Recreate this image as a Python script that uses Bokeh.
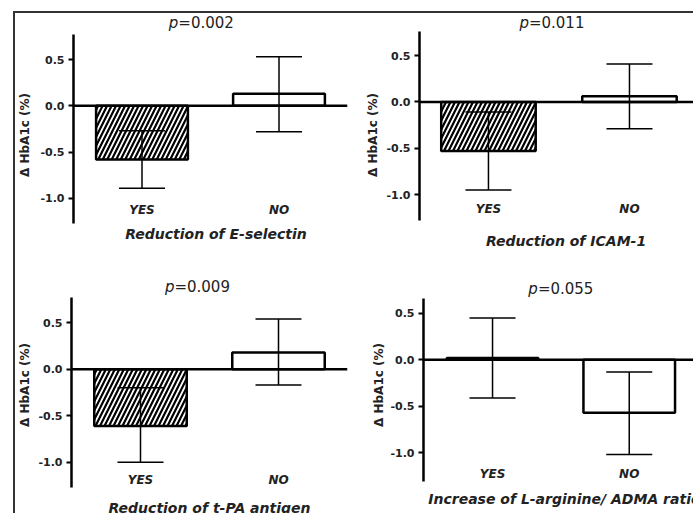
from bokeh.plotting import figure
from bokeh.layouts import row, column
from bokeh.models import (ColumnDataSource, Whisker, TeeHead, Span,
                          FixedTicker, NumeralTickFormatter)
from bokeh.core.properties import value
from bokeh.embed import file_html
from bokeh.resources import INLINE

# ---------------- data ----------------
CATEGORIES = ["YES", "NO"]
Y_TICKS = [-1.0, -0.5, 0.0, 0.5]
Y_LABEL = "\u0394 HbA1c (%)"

TITLES = ["Reduction of E-selectin", "Reduction of ICAM-1",
          "Reduction of t-PA antigen", "Increase of L-arginine/ ADMA ratio"]
P_VALUES = ["0.002", "0.011", "0.009", "0.055"]

MEAN_ESEL = [-0.58, 0.13]
LOW_ESEL = [-0.89, -0.28]
HIGH_ESEL = [-0.27, 0.53]

MEAN_ICAM = [-0.53, 0.06]
LOW_ICAM = [-0.95, -0.29]
HIGH_ICAM = [-0.11, 0.41]

MEAN_TPA = [-0.61, 0.18]
LOW_TPA = [-1.00, -0.17]
HIGH_TPA = [-0.20, 0.54]

MEAN_LARG = [0.02, -0.57]
LOW_LARG = [-0.41, -1.02]
HIGH_LARG = [0.45, -0.13]

SERIES = [(MEAN_ESEL, LOW_ESEL, HIGH_ESEL),
          (MEAN_ICAM, LOW_ICAM, HIGH_ICAM),
          (MEAN_TPA, LOW_TPA, HIGH_TPA),
          (MEAN_LARG, LOW_LARG, HIGH_LARG)]

# ---------------- styles / layout ----------------
FONT = "DejaVu Sans"
TEXT_COLOR = "#222222"
HATCH = {"YES": "/", "NO": " "}
# w,h: figure size; bl/br: left/right border; at/ab: axis top/bottom (px from figure top)
# ax: axis extent in data units
PANELS = [
    dict(w=337, h=243, bl=53, br=5, at=21, ab=210, ax=(-1.27, 0.77), xr=(0.5, 2.5),
         ylab_so=5, cat_y=-1.12, p_x=1.43, p_dy=12, t_x=1.54, t_dy=10, t_align="center"),
    dict(w=341, h=243, bl=67, br=0, at=18, ab=207, ax=(-1.28, 0.76), xr=(0.511, 2.454),
         ylab_so=3, cat_y=-1.16, p_x=1.45, p_dy=9, t_x=1.55, t_dy=20, t_align="center"),
    dict(w=337, h=257, bl=52, br=5, at=41, ab=231, ax=(-1.27, 0.77), xr=(0.5, 2.5),
         ylab_so=3, cat_y=-1.19, p_x=1.41, p_dy=11, t_x=1.5, t_dy=20, t_align="center"),
    dict(w=341, h=257, bl=71, br=0, at=42, ab=225, ax=(-1.31, 0.66), xr=(0.495, 2.47),
         ylab_so=1, cat_y=-1.23, p_x=1.5, p_dy=10, t_x=0.53, t_dy=17, t_align="left"),
]
P_SPLIT_PX = 23  # px from the p-label centre back to the end of the italic "p"


def make_panel(i):
    cfg = PANELS[i]
    mean, low, high = SERIES[i]
    ylo, yhi = cfg["ax"]
    ppu_y = (cfg["ab"] - cfg["at"]) / (yhi - ylo)
    y_start = ylo - (cfg["h"] - cfg["ab"]) / ppu_y
    y_end = yhi + cfg["at"] / ppu_y
    frame_w = cfg["w"] - cfg["bl"] - cfg["br"]
    ppu_x = frame_w / (cfg["xr"][1] - cfg["xr"][0])

    xs = [k + 1 for k in range(len(CATEGORIES))]
    src = ColumnDataSource(dict(x=xs, cat=CATEGORIES, mean=mean, low=low, high=high,
                                hatch=[HATCH[c] for c in CATEGORIES]))

    p = figure(width=cfg["w"], height=cfg["h"], output_backend="svg", toolbar_location=None,
               x_range=cfg["xr"], y_range=(y_start, y_end),
               min_border_left=cfg["bl"], min_border_right=cfg["br"],
               min_border_top=0, min_border_bottom=0)
    p.outline_line_color = None
    p.grid.visible = False
    p.xaxis.visible = False
    p.background_fill_color = "white"
    p.border_fill_color = "white"

    ax = p.yaxis[0]
    ax.bounds = (ylo, yhi)
    ax.ticker = FixedTicker(ticks=Y_TICKS)
    ax.formatter = NumeralTickFormatter(format="0.0")
    ax.minor_tick_line_color = None
    ax.major_tick_in = 0
    ax.major_tick_out = 5
    ax.major_tick_line_width = 2
    ax.axis_line_width = 2.5
    ax.axis_line_color = "black"
    ax.major_tick_line_color = "black"
    ax.major_label_standoff = 4
    ax.major_label_text_font = FONT
    ax.major_label_text_font_style = "bold"
    ax.major_label_text_font_size = "11px"
    ax.major_label_text_color = TEXT_COLOR
    ax.axis_label = Y_LABEL
    ax.axis_label_text_font = FONT
    ax.axis_label_text_font_style = "bold"
    ax.axis_label_text_font_size = "12px"
    ax.axis_label_text_color = TEXT_COLOR
    ax.axis_label_standoff = cfg["ylab_so"]

    p.vbar(x="x", top="mean", bottom=0, width=0.67, source=src,
           fill_color="white", line_color="black", line_width=2.5,
           hatch_pattern="hatch", hatch_color="black", hatch_weight=2.2, hatch_scale=9)

    p.add_layout(Span(location=0, dimension="width", line_color="black", line_width=2.5))

    wh = Whisker(source=src, base="x", upper="high", lower="low",
                 line_color="black", line_width=1.5, level="annotation",
                 upper_head=TeeHead(size=46, line_width=1.5, line_color="black"),
                 lower_head=TeeHead(size=46, line_width=1.5, line_color="black"))
    p.add_layout(wh)

    # category labels
    p.text(x="x", y=cfg["cat_y"], text="cat", source=src, text_align="center",
           text_baseline="middle", text_font=value(FONT), text_font_style="bold italic",
           text_font_size="12px", text_color=TEXT_COLOR)

    # p-value label: italic "p" + upright "=value"
    py = yhi + cfg["p_dy"] / ppu_y
    px = cfg["p_x"] - P_SPLIT_PX / ppu_x
    p.text(x=[px], y=[py], text=["p"], text_align="right", text_baseline="middle",
           text_font=value(FONT), text_font_style="italic", text_font_size="15px",
           text_color=TEXT_COLOR)
    p.text(x=[px], y=[py], text=["=" + P_VALUES[i]], text_align="left", text_baseline="middle",
           text_font=value(FONT), text_font_size="15px", text_color=TEXT_COLOR)

    # panel title below the axis
    ty = ylo - cfg["t_dy"] / ppu_y
    p.text(x=[cfg["t_x"]], y=[ty], text=[TITLES[i]], text_align=cfg["t_align"],
           text_baseline="middle", text_font=value(FONT), text_font_style="bold italic",
           text_font_size="14px", text_color=TEXT_COLOR)
    return p


panels = [make_panel(i) for i in range(4)]
root = column(row(panels[0], panels[1]), row(panels[2], panels[3]),
              margin=(11, 0, 0, 13),
              styles={"border-left": "2px solid #333333", "border-top": "2px solid #333333"})

open("out.html", "w").write(file_html(root, INLINE))
